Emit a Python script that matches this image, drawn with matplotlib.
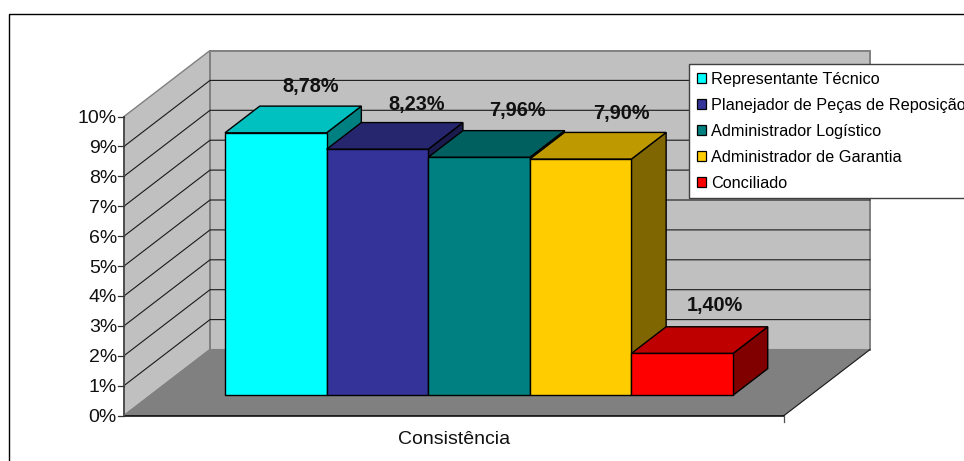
import matplotlib
matplotlib.use("Agg")
import matplotlib.pyplot as plt
from matplotlib.patches import Polygon, Rectangle, Patch

plt.rcParams['font.family'] = ['Liberation Sans', 'DejaVu Sans']

series = ["Representante Técnico", "Planejador de Peças de Reposição",
          "Administrador Logístico", "Administrador de Garantia", "Conciliado"]
values = [8.78, 8.23, 7.96, 7.90, 1.40]
value_labels = ["8,78%", "8,23%", "7,96%", "7,90%", "1,40%"]
category = "Consistência"
y_ticks = list(range(0, 11))
y_tick_labels = [f"{t}%" for t in y_ticks]

front_colors = ["#00FFFF", "#333399", "#008080", "#FFCC00", "#FF0000"]
top_colors = ["#00C0C0", "#26266F", "#006060", "#BF9900", "#BF0000"]
side_colors = ["#008080", "#1A1A4D", "#004040", "#806600", "#800000"]
label_dx = [0.34, 0.39, 0.38, 0.40, 0.32]
label_dy = [1.55, 1.49, 1.58, 1.52, 1.59]

W, H = 964, 461
PX_X = 101.6     # pixels per bar width
PX_Y = 29.9      # pixels per percentage point
X0, Y0 = 124, 415.5
DEPTH_X = 86 / PX_X
DEPTH_Y = 66 / PX_Y
PLANE_W = 660 / PX_X
BAR_LEFT = 0.735
D_FRONT, D_BACK = 0.306, 0.71


def proj(x, v, d):
    return (x + DEPTH_X * d, v + DEPTH_Y * d)


fig = plt.figure(figsize=(W / 100, H / 100), dpi=100)
ax = fig.add_axes([0, 0, 1, 1])
ax.set_xlim(-X0 / PX_X, (W - X0) / PX_X)
ax.set_ylim(-(H - Y0) / PX_Y, Y0 / PX_Y)
ax.axis("off")

# chart frame
ax.add_patch(Rectangle((8.5 / W, 1 - 14 / H), 1, -1, transform=ax.transAxes, fill=False,
                       edgecolor="black", linewidth=1.0, clip_on=True))

top = y_ticks[-1]
wall_edge = "#808080"
# walls and floor
ax.add_patch(Polygon([proj(0, 0, 0), proj(0, top, 0), proj(0, top, 1), proj(0, 0, 1)],
                     facecolor="#C0C0C0", edgecolor=wall_edge, linewidth=1.0))
ax.add_patch(Polygon([proj(0, 0, 1), proj(0, top, 1), proj(PLANE_W, top, 1), proj(PLANE_W, 0, 1)],
                     facecolor="#C0C0C0", edgecolor=wall_edge, linewidth=1.4))
ax.add_patch(Polygon([proj(0, 0, 0), proj(0, 0, 1), proj(PLANE_W, 0, 1), proj(PLANE_W, 0, 0)],
                     facecolor="#808080", edgecolor=wall_edge, linewidth=0.8))

# gridlines
for t in y_ticks[1:-1]:
    pts = [proj(0, t, 0), proj(0, t, 1), proj(PLANE_W, t, 1)]
    ax.plot(*zip(*pts), color="#1A1A1A", linewidth=0.8, solid_joinstyle="miter", zorder=2)

# floor outer edges
ax.plot(*zip(proj(PLANE_W, 0, 0), proj(PLANE_W, 0, 1)), color="#202020", linewidth=0.8, zorder=2)
ax.plot(*zip(proj(0, 0, 0), proj(PLANE_W, 0, 0)), color="black", linewidth=1.1, zorder=2)

# axes and ticks
ax.plot([0, 0], [0, top], color="#505050", linewidth=1.4, zorder=2)
tick_x = 6 / PX_X
for t, lab in zip(y_ticks, y_tick_labels):
    ax.plot([-tick_x, 0], [t, t], color="#303030", linewidth=0.9, zorder=2)
    ax.text(-tick_x - 1 / PX_X, t - 2 / PX_Y, lab, ha="right", va="center", fontsize=14, color="#111111")
ax.plot([PLANE_W, PLANE_W], [0, -6 / PX_Y], color="#505050", linewidth=0.9, zorder=2)
ax.text(PLANE_W / 2, -24 / PX_Y, category, ha="center", va="center", fontsize=14, color="#111111")

# bars
for i, v in enumerate(values):
    a, b = BAR_LEFT + i, BAR_LEFT + i + 1
    kw = dict(edgecolor="black", linewidth=1.0, joinstyle="miter", zorder=3 + i * 0.1)
    ax.add_patch(Polygon([proj(b, 0, D_FRONT), proj(b, v, D_FRONT), proj(b, v, D_BACK), proj(b, 0, D_BACK)],
                         facecolor=side_colors[i], **kw))
    ax.add_patch(Polygon([proj(a, v, D_FRONT), proj(a, v, D_BACK), proj(b, v, D_BACK), proj(b, v, D_FRONT)],
                         facecolor=top_colors[i], **kw))
    ax.add_patch(Polygon([proj(a, 0, D_FRONT), proj(a, v, D_FRONT), proj(b, v, D_FRONT), proj(b, 0, D_FRONT)],
                         facecolor=front_colors[i], **kw))

# value labels
for i, v in enumerate(values):
    cx, cy = proj(BAR_LEFT + i + 0.5, v, D_FRONT)
    ax.text(cx + label_dx[i], cy + label_dy[i], value_labels[i], ha="center", va="center",
            fontsize=14.3, fontweight="bold", color="#111111", zorder=6)

# legend
handles = [Patch(facecolor=c, edgecolor="black", linewidth=0.9) for c in front_colors]
leg = ax.legend(handles, series, loc="upper left", bbox_to_anchor=(689 / W, 1 - 64 / H),
                bbox_transform=ax.transAxes, borderaxespad=0, fontsize=11.7, frameon=True,
                fancybox=False, framealpha=1, edgecolor="#404040", handlelength=0.55,
                handleheight=0.55, handletextpad=0.32, borderpad=0.47, labelspacing=0.68)
leg.get_frame().set_linewidth(1.0)
leg.set_zorder(10)

fig.savefig("out.png", dpi=100)
